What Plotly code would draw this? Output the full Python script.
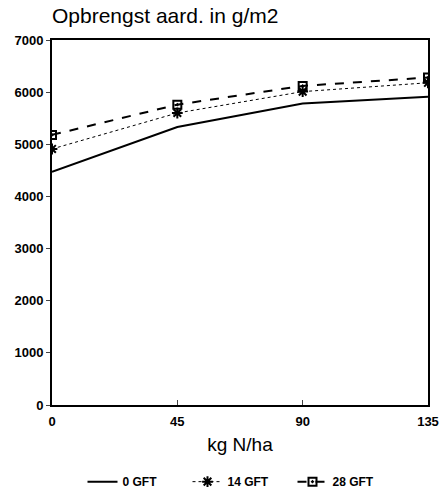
import plotly.graph_objects as go

x_vals = [0, 45, 90, 135]
gft0 = [4470, 5330, 5780, 5910]
gft14 = [4910, 5600, 6010, 6180]
gft28 = [5180, 5760, 6120, 6280]
x_ticks = [0, 45, 90, 135]
y_ticks = [0, 1000, 2000, 3000, 4000, 5000, 6000, 7000]

fig = go.Figure()
fig.add_trace(go.Scatter(x=x_vals, y=gft0, name="0 GFT", mode="lines",
                         line=dict(color="black", width=2, dash="solid")))
fig.add_trace(go.Scatter(x=x_vals, y=gft14, name="14 GFT", mode="lines+markers",
                         line=dict(color="black", width=1, dash="dot"),
                         marker=dict(symbol="asterisk-open", size=9, color="black",
                                     line=dict(color="black", width=2))))
fig.add_trace(go.Scatter(x=x_vals, y=gft28, name="28 GFT", mode="lines+markers",
                         line=dict(color="black", width=2, dash="dash"),
                         marker=dict(symbol="square-open-dot", size=8, color="black",
                                     line=dict(color="black", width=2))))

tick_font = dict(size=13, family="Liberation Sans, Arial", weight="bold")

W, H = 441, 495
fig.update_layout(
    width=W, height=H,
    margin=dict(l=52, r=13, t=40, b=90, autoexpand=False),
    paper_bgcolor="white", plot_bgcolor="white",
    font=dict(family="Liberation Sans, Arial, sans-serif", color="black"),
    title=dict(text="Opbrengst aard. in g/m2", x=52/W, xanchor="left",
               y=1 - 16/H, yanchor="middle", font=dict(size=21)),
    xaxis=dict(range=[0, 135], tickvals=x_ticks, ticks="inside", ticklen=5,
               showgrid=False, zeroline=False, showline=True, linecolor="black",
               linewidth=2, mirror=True, tickfont=tick_font, automargin=False,
               ticklabelstandoff=3,
               title=dict(text="kg N/ha", font=dict(size=19), standoff=10)),
    yaxis=dict(range=[0, 7000], tickvals=y_ticks, ticks="outside", ticklen=4,
               showgrid=False, zeroline=False, showline=True, linecolor="black",
               linewidth=2, mirror=True, tickfont=tick_font, automargin=False),
    legend=dict(orientation="h", x=0.5, xanchor="center", y=-0.21, yanchor="middle",
                font=dict(size=12, weight="bold"), entrywidth=60, entrywidthmode="pixels",
                bgcolor="rgba(0,0,0,0)"),
    showlegend=True,
)

fig.write_html("out.html", config={"displayModeBar": False},
               post_script="document.body.style.margin='0';document.body.style.overflow='hidden';")
